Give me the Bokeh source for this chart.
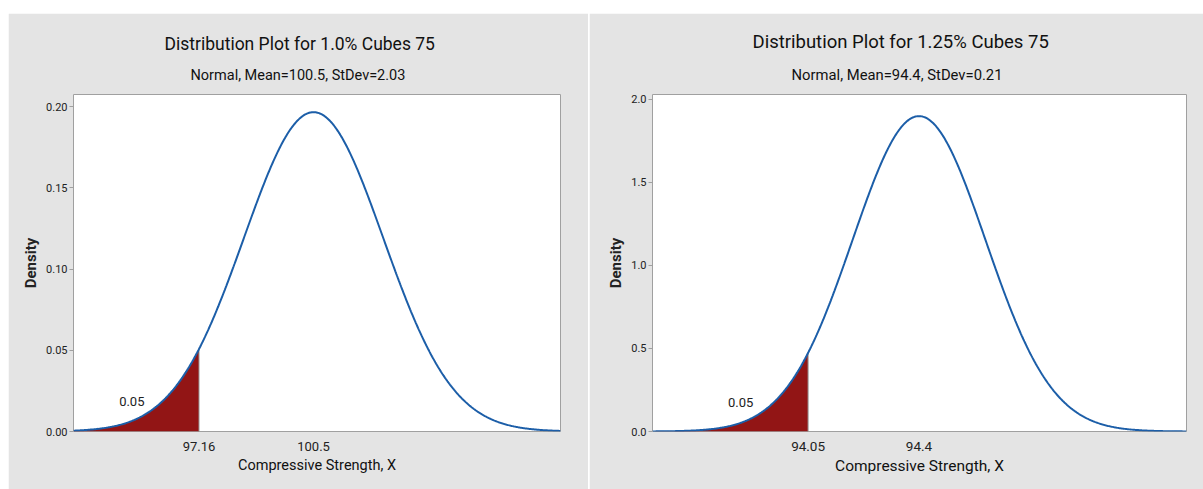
import numpy as np
from bokeh.plotting import figure
from bokeh.models import Range1d, FixedTicker, PrintfTickFormatter, Title, Label
from bokeh.layouts import row
from bokeh.embed import file_html
from bokeh.resources import INLINE

# ---- data ----
titles = ["Distribution Plot for 1.0% Cubes 75", "Distribution Plot for 1.25% Cubes 75"]
subtitles = ["Normal, Mean=100.5, StDev=2.03", "Normal, Mean=94.4, StDev=0.21"]
means = [100.5, 94.4]
stdevs = [2.03, 0.21]
cutoffs = [97.16, 94.05]
tail_areas = [0.05, 0.05]
x_tick_values = [[97.16, 100.5], [94.05, 94.4]]
x_tick_labels = [["97.16", "100.5"], ["94.05", "94.4"]]
y_tick_values = [[0.0, 0.05, 0.10, 0.15, 0.20], [0.0, 0.5, 1.0, 1.5, 2.0]]
y_formats = ["%.2f", "%.1f"]
x_label = "Compressive Strength, X"
y_label = "Density"

# ---- layout / style (not data) ----
x_ranges = [(93.5, 107.7), (93.559, 95.244)]
y_ranges = [(0.0, 0.2074), (0.0, 2.03)]
area_label_pos = [(95.2, 0.0185), (93.837, 0.174)]
fig_w = [580, 614]
borders = [(65, 28, 81, 58), (63, 17, 81, 57)]  # left, right, top, bottom
title_offsets = [91, 100]
sub_offsets = [117, 139]
title_sizes = ["17.5px", "18.5px"]
sub_sizes = ["14.5px", "14.8px"]
xlab_sizes = ["14.5px", "15.5px"]
xtick_sizes = ["13px", "13.5px"]
margins = [(13, 0, 0, 8), (13, 0, 0, 1)]

FONT = "Roboto"
PANEL = "#e4e4e4"
BLUE = "#1c5ea8"
RED = "#921515"


def make_panel(i):
    m, s = means[i], stdevs[i]
    x0, x1 = x_ranges[i]
    bl, br, bt, bb = borders[i]
    p = figure(width=fig_w[i], height=476, output_backend="svg", toolbar_location=None,
               x_range=Range1d(x0, x1), y_range=Range1d(*y_ranges[i]),
               min_border_left=bl, min_border_right=br, min_border_top=bt, min_border_bottom=bb,
               title=None)
    p.margin = margins[i]
    p.background_fill_color = "white"
    p.border_fill_color = PANEL
    p.outline_line_color = "#a0a0a0"
    p.outline_line_width = 1
    p.grid.visible = False

    xs = np.linspace(x0, x1, 600)
    ys = np.exp(-0.5 * ((xs - m) / s) ** 2) / (s * np.sqrt(2 * np.pi))
    xt = np.linspace(x0, cutoffs[i], 300)
    yt = np.exp(-0.5 * ((xt - m) / s) ** 2) / (s * np.sqrt(2 * np.pi))
    p.varea(x=xt, y1=np.zeros_like(xt), y2=yt, fill_color=RED)
    p.segment(x0=[cutoffs[i]], y0=[0], x1=[cutoffs[i]], y1=[yt[-1]], line_color="#9a9a9a", line_width=1)
    p.line(xs, ys, line_color=BLUE, line_width=2)

    lx, ly = area_label_pos[i]
    p.add_layout(Label(x=lx, y=ly, text=f"{tail_areas[i]:.2f}", text_font=FONT,
                       text_font_size="13px", text_color="#222222",
                       text_align="center", text_baseline="middle"))

    sub = Title(text=subtitles[i], align="left", text_font=FONT, text_font_size=sub_sizes[i],
                text_font_style="normal", text_color="#111111", offset=sub_offsets[i], standoff=22)
    p.add_layout(sub, "above")
    main = Title(text=titles[i], align="left", text_font=FONT, text_font_size=title_sizes[i],
                 text_font_style="normal", text_color="#111111", offset=title_offsets[i], standoff=-1)
    p.add_layout(main, "above")

    xa = p.xaxis[0]
    xa.ticker = FixedTicker(ticks=x_tick_values[i])
    xa.major_label_overrides = {v: t for v, t in zip(x_tick_values[i], x_tick_labels[i])}
    xa.axis_line_color = None
    xa.major_tick_line_color = None
    xa.minor_tick_line_color = None
    xa.major_label_standoff = 4
    xa.major_label_text_font = FONT
    xa.major_label_text_font_size = xtick_sizes[i]
    xa.major_label_text_color = "#222222"
    xa.axis_label = x_label
    xa.axis_label_text_font = FONT
    xa.axis_label_text_font_size = xlab_sizes[i]
    xa.axis_label_text_font_style = "normal"
    xa.axis_label_text_color = "#111111"
    xa.axis_label_standoff = 3

    ya = p.yaxis[0]
    ya.ticker = FixedTicker(ticks=y_tick_values[i])
    ya.formatter = PrintfTickFormatter(format=y_formats[i])
    ya.axis_line_color = None
    ya.major_tick_line_color = "#a0a0a0"
    ya.major_tick_out = 4
    ya.major_tick_in = 0
    ya.minor_tick_line_color = None
    ya.major_label_standoff = 2
    ya.major_label_text_font = FONT
    ya.major_label_text_font_size = "11px"
    ya.major_label_text_color = "#222222"
    ya.axis_label = y_label
    ya.axis_label_text_font = FONT
    ya.axis_label_text_font_size = "15px"
    ya.axis_label_text_font_style = "bold"
    ya.axis_label_text_color = "#222222"
    ya.axis_label_standoff = 3
    return p


p = row(make_panel(0), make_panel(1))
p.spacing = 0

open("out.html", "w").write(file_html(p, INLINE))
